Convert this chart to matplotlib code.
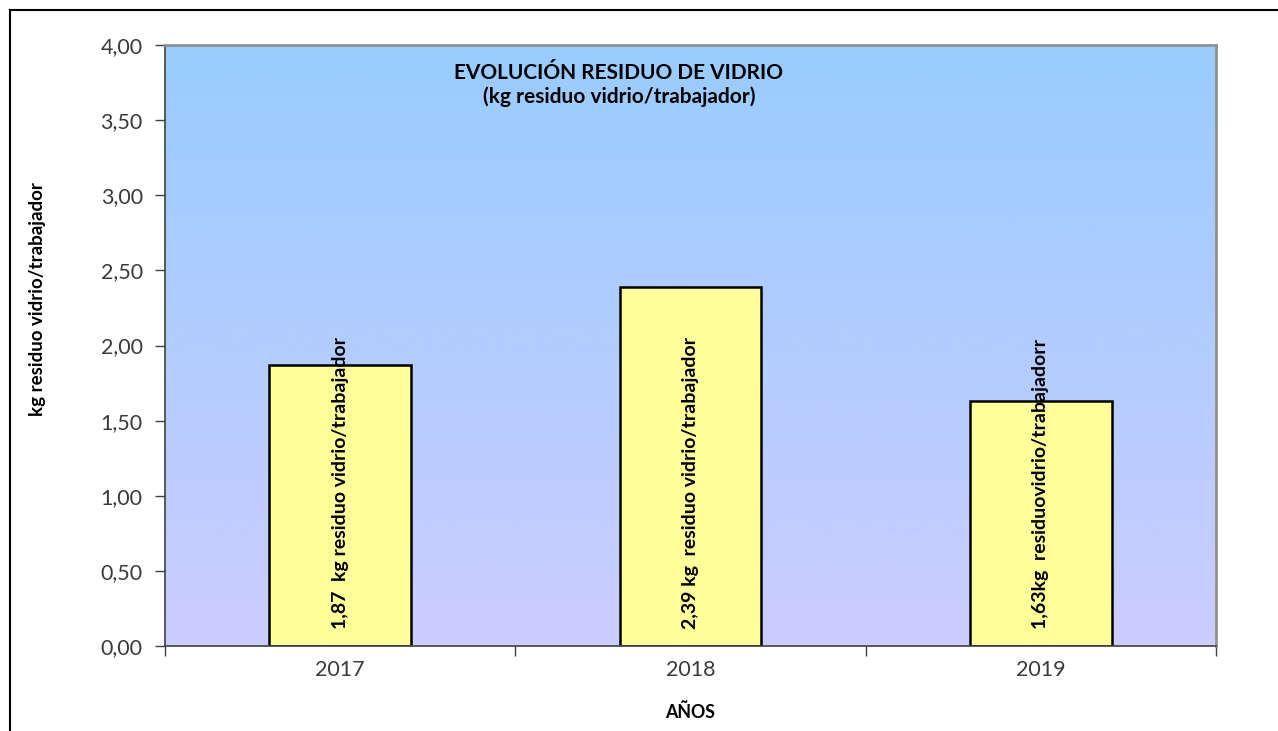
import numpy as np
import matplotlib.pyplot as plt
from matplotlib.lines import Line2D
from matplotlib.ticker import FuncFormatter

years = ["2017", "2018", "2019"]
valores = [1.87, 2.39, 1.63]
etiquetas = ["1,87  kg residuo vidrio/trabajador",
             "2,39 kg  residuo vidrio/trabajador",
             "1,63kg  residuovidrio/trabajadorr"]

plt.rcParams['font.family'] = ['Lato', 'DejaVu Sans']

W, H = 1278, 731
fig = plt.figure(figsize=(W / 100, H / 100), dpi=100)
ax = fig.add_axes([165 / W, 1 - 646 / H, (1216 - 165) / W, (646 - 45) / H])

# fondo degradado
grad = np.linspace(0, 1, 256).reshape(-1, 1)
top = np.array([0x99, 0xCC, 0xFF]) / 255
bot = np.array([0xCC, 0xCC, 0xFF]) / 255
img = top + (bot - top) * grad[:, :, None]
ax.imshow(img, extent=[0, 1, 0, 1], transform=ax.transAxes, aspect='auto', zorder=0)

x = np.arange(len(years))
ax.bar(x, valores, width=0.405, color='#FFFF99', edgecolor='black', linewidth=1.8, zorder=2)

for xi, txt in zip(x, etiquetas):
    ax.text(xi, 0.11, txt, rotation=90, ha='center', va='bottom', fontsize=14,
            fontweight='bold', color='black', zorder=3)

ax.set_xlim(-0.5, 2.5)
ax.set_ylim(0, 4)
ax.set_yticks(np.arange(0, 4.01, 0.5))
ax.yaxis.set_major_formatter(FuncFormatter(lambda v, p: f"{v:.2f}".replace('.', ',')))
ax.tick_params(axis='y', direction='out', length=7, width=1, color='#404040',
               labelsize=15.5, labelcolor='#3a3a3a', pad=9)

ax.set_xticks([-0.5, 0.5, 1.5, 2.5])
ax.set_xticklabels([])
ax.set_xticks(x, minor=True)
ax.set_xticklabels(years, minor=True)
ax.tick_params(axis='x', which='major', direction='out', length=7, width=1, color='#404040')
ax.tick_params(axis='x', which='minor', length=0, labelsize=15.5, labelcolor='#3a3a3a', pad=10)

for s in ['top', 'right']:
    ax.spines[s].set_color('#909090')
    ax.spines[s].set_linewidth(2)
ax.spines['left'].set_color('#404040')
ax.spines['bottom'].set_color('#404040')
ax.spines['left'].set_linewidth(1.2)
ax.spines['bottom'].set_linewidth(1.2)

fig.text(619 / W, 1 - 85 / H, "EVOLUCIÓN RESIDUO DE VIDRIO\n(kg residuo vidrio/trabajador)",
         ha='center', va='center', fontsize=15, fontweight='bold', color='black',
         linespacing=1.2)

fig.text(38 / W, 1 - 299 / H, "kg residuo vidrio/trabajador", rotation=90,
         ha='center', va='center', fontsize=13.5, fontweight='bold')
fig.text(690 / W, 1 - 712 / H, "AÑOS", ha='center', va='center', fontsize=12.8,
         fontweight='bold')

# marco exterior
fig.add_artist(Line2D([10 / W, 1], [1 - 10 / H, 1 - 10 / H], color='black', linewidth=1.5))
fig.add_artist(Line2D([10 / W, 10 / W], [0, 1 - 10 / H], color='black', linewidth=1.5))

plt.savefig('out.png', dpi=100)
